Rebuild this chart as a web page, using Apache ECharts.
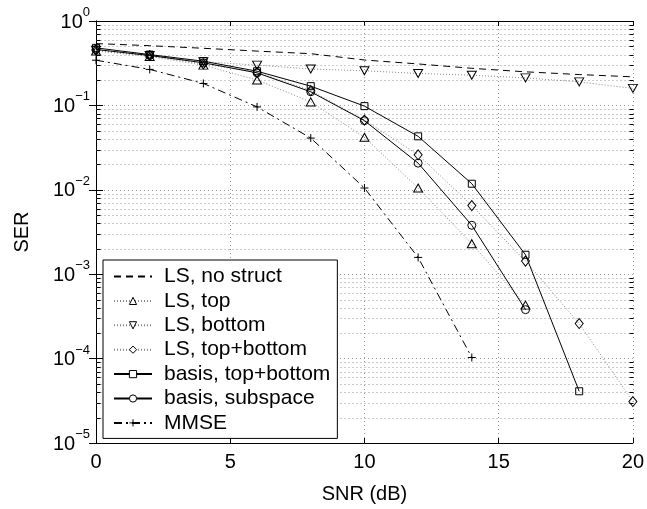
<!DOCTYPE html>
<html><head><meta charset="utf-8">
<script src="https://cdn.jsdelivr.net/npm/echarts@6/dist/echarts.min.js"></script>
<style>html,body{margin:0;padding:0;background:#fff}#c{width:647px;height:509px}</style>
</head><body><div id="c"></div>
<script>
const snr = [0,2,4,6,8,10,12,14,16,18,20];
const lsNoStruct     = [0.54,0.51,0.475,0.44,0.41,0.345,0.31,0.275,0.25,0.232,0.218];
const lsTop          = [0.44,0.38,0.30,0.20,0.11,0.042,0.0105,0.0023,0.00043];
const lsBottom       = [0.45,0.39,0.33,0.30,0.27,0.257,0.239,0.228,0.212,0.19,0.159];
const lsTopBottom    = [0.45,0.39,0.31,0.246,0.15,0.067,0.026,0.0065,0.00143,0.00026,0.000031];
const basisTopBottom = [0.48,0.40,0.334,0.254,0.169,0.098,0.043,0.0118,0.0017,0.000041];
const basisSubspace  = [0.46,0.39,0.32,0.243,0.145,0.066,0.0207,0.0038,0.00038];
const mmse           = [0.343,0.267,0.182,0.096,0.041,0.0105,0.00158,0.000103];
const seriesNames = ['LS, no struct','LS, top','LS, bottom','LS, top+bottom','basis, top+bottom','basis, subspace','MMSE'];
const xTicks = [0,5,10,15,20];
const yDecades = [-5,-4,-3,-2,-1,0];
const minorMultipliers = [2,3,4,5,6,7,8,9];

const FONT = "'Liberation Sans', Arial, Helvetica, sans-serif";
const minorY = [];
yDecades.slice(0,-1).forEach(e => minorMultipliers.forEach(m => minorY.push(m * Math.pow(10, e))));

function pairs(vals){ return vals.map((v,i)=>[snr[i], v]); }

const GRIDC = '#999';
const DOT = [1,3];
const SERDOT = '#888';

function mk(name, vals, opts){
  return Object.assign({
    name, type:'line', data: pairs(vals), xAxisIndex:0, yAxisIndex:0,
    symbol:'none', symbolSize:8, showSymbol:true, z:3,
    lineStyle:{color:'#000', width:1, type:'solid'},
    itemStyle:{color:'rgba(255,255,255,0)', borderColor:'#000', borderWidth:1},
    emphasis:{disabled:true}
  }, opts);
}

const series = [
  mk(seriesNames[0], lsNoStruct, {lineStyle:{color:'#000', width:1, type:[7,5]}}),
  mk(seriesNames[1], lsTop, {symbol:'triangle', symbolSize:[9,8], lineStyle:{color:SERDOT, width:1, type:[1,2]}}),
  mk(seriesNames[2], lsBottom, {symbol:'triangle', symbolRotate:180, symbolSize:[9,8], lineStyle:{color:SERDOT, width:1, type:[1,2]}}),
  mk(seriesNames[3], lsTopBottom, {symbol:'diamond', symbolSize:[8,10], lineStyle:{color:SERDOT, width:1, type:[1,2]}}),
  mk(seriesNames[4], basisTopBottom, {symbol:'rect', symbolSize:7}),
  mk(seriesNames[5], basisSubspace, {symbol:'circle', symbolSize:8}),
  mk(seriesNames[6], mmse, {symbol:'path://M5,0L5,10M0,5L10,5', symbolSize:8, lineStyle:{color:'#000', width:1, type:[8,4,2,4]}}),
  {
    type:'custom', silent:true, z:1, xAxisIndex:0, yAxisIndex:0,
    data: minorY.map(v=>[0, v]),
    renderItem: function(params, api){
      const v = api.value(1);
      const a = api.coord([0, v]), b = api.coord([20, v]);
      const y = Math.round(a[1]) + 0.5;
      const x0 = Math.round(a[0]) + 0.5, x1 = Math.round(b[0]) + 0.5;
      return {type:'group', children:[
        {type:'line', shape:{x1:x0, y1:y, x2:x1, y2:y}, style:{stroke:GRIDC, lineWidth:1, lineDash:DOT}},
        {type:'line', shape:{x1:x0, y1:y, x2:x0+4, y2:y}, style:{stroke:'#000', lineWidth:1}},
        {type:'line', shape:{x1:x1-4, y1:y, x2:x1, y2:y}, style:{stroke:'#000', lineWidth:1}}
      ]};
    }
  }
];

const legendData = seriesNames.map((n, i) => i === 0
  ? {name:n, itemStyle:{color:'rgba(0,0,0,0)', borderColor:'rgba(0,0,0,0)', borderWidth:0}}
  : {name:n});

const option = {
  animation:false,
  backgroundColor:'#fff',
  textStyle:{fontFamily:FONT},
  grid:{left:96, right:14, top:21, bottom:65, containLabel:false},
  legend:{
    orient:'vertical', left:103, top:260,
    backgroundColor:'#fff', borderColor:'#000', borderWidth:1, borderRadius:0,
    padding:[6,7,5,10], itemWidth:38, itemHeight:9, itemGap:3.4,
    itemStyle:{color:'#fff', borderColor:'#000', borderWidth:1},
    textStyle:{fontSize:21, fontFamily:FONT, color:'#000', lineHeight:20, padding:[0,0,0,7]},
    data: legendData, selectedMode:false, z:10
  },
  xAxis:[{
    type:'value', min:0, max:20, interval:5, position:'bottom',
    name:'SNR (dB)', nameLocation:'middle', nameGap:41,
    nameTextStyle:{fontSize:20, color:'#000', fontFamily:FONT},
    axisLine:{show:true, lineStyle:{color:'#000', width:1}},
    axisTick:{show:true, inside:true, length:5, lineStyle:{color:'#000'}},
    axisLabel:{fontSize:20, color:'#000', margin:9, fontFamily:FONT},
    splitLine:{show:true, lineStyle:{color:GRIDC, type:DOT, width:1}}
  },{
    type:'value', min:0, max:20, interval:5, position:'top',
    axisLine:{show:true, lineStyle:{color:'#000', width:1}},
    axisTick:{show:true, inside:true, length:5, lineStyle:{color:'#000'}},
    axisLabel:{show:false}, splitLine:{show:false}
  }],
  yAxis:[{
    type:'log', logBase:10, min:1e-5, max:1, position:'left',
    name:'SER', nameLocation:'middle', nameGap:64,
    nameTextStyle:{fontSize:20, color:'#000', fontFamily:FONT},
    axisLine:{show:true, lineStyle:{color:'#000', width:1}},
    axisTick:{show:true, inside:true, length:7, lineStyle:{color:'#000'}},
    axisLabel:{
      margin:6, color:'#000',
      formatter: function(v){
        const e = Math.round(Math.log10(v));
        return '{b|10}{e|' + (e < 0 ? '\u2212' + (-e) : e) + '}';
      },
      rich:{
        b:{fontSize:20, fontFamily:FONT, color:'#000', lineHeight:22, verticalAlign:'bottom'},
        e:{fontSize:13, fontFamily:FONT, color:'#000', lineHeight:13, padding:[0,0,13,0], verticalAlign:'bottom'}
      }
    },
    splitLine:{show:true, lineStyle:{color:GRIDC, type:DOT, width:1}}
  },{
    type:'log', logBase:10, min:1e-5, max:1, position:'right',
    axisLine:{show:true, lineStyle:{color:'#000', width:1}},
    axisTick:{show:true, inside:true, length:7, lineStyle:{color:'#000'}},
    axisLabel:{show:false}, splitLine:{show:false}
  }],
  series
};
const chart = echarts.init(document.getElementById('c'), null, {renderer:'canvas'});
chart.setOption(option);
</script>
</body></html>
